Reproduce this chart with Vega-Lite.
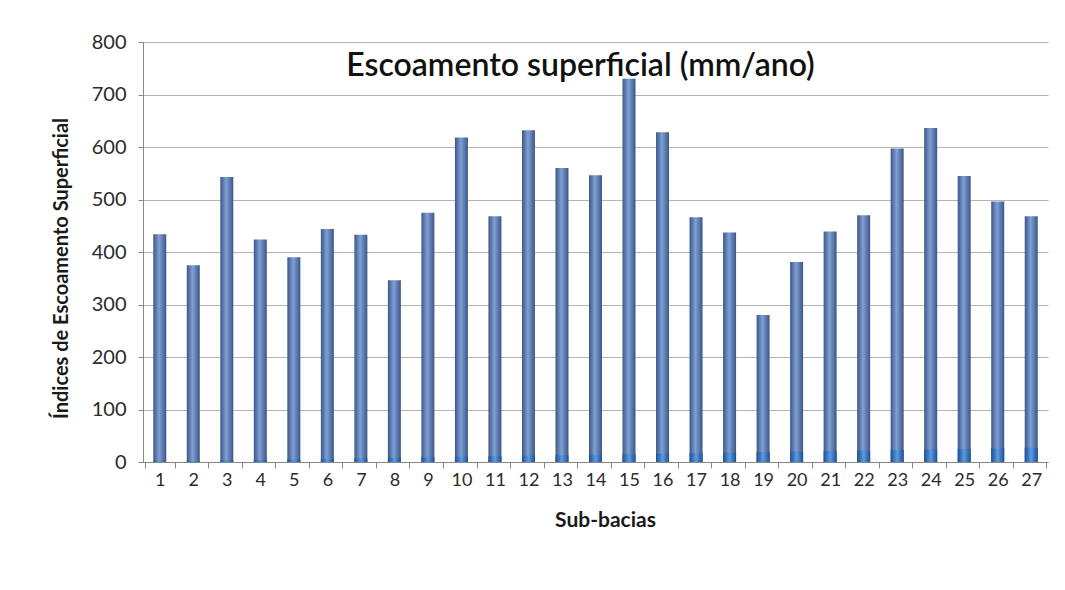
{
  "$schema": "https://vega.github.io/schema/vega-lite/v6.json",
  "autosize": "none",
  "width": 905,
  "height": 420,
  "padding": {"left": 143, "top": 42, "right": 17, "bottom": 128},
  "background": "white",
  "config": {
    "font": "Lato",
    "view": {"stroke": null},
    "axis": {"labelFont": "Lato", "titleFont": "Lato", "labelColor": "#2b2b2b", "titleColor": "#1a1a1a"}
  },
  "title": {
    "text": "Escoamento superficial (mm/ano)",
    "offset": -51,
    "fontSize": 32,
    "fontWeight": 600,
    "font": "Lato",
    "color": "#111111",
    "anchor": "middle",
    "dx": -15
  },
  "data": {
    "values": [
      {"sub": "1", "esc": 434, "n": 1},
      {"sub": "2", "esc": 375, "n": 2},
      {"sub": "3", "esc": 543, "n": 3},
      {"sub": "4", "esc": 424, "n": 4},
      {"sub": "5", "esc": 390, "n": 5},
      {"sub": "6", "esc": 444, "n": 6},
      {"sub": "7", "esc": 433, "n": 7},
      {"sub": "8", "esc": 346, "n": 8},
      {"sub": "9", "esc": 475, "n": 9},
      {"sub": "10", "esc": 618, "n": 10},
      {"sub": "11", "esc": 468, "n": 11},
      {"sub": "12", "esc": 632, "n": 12},
      {"sub": "13", "esc": 560, "n": 13},
      {"sub": "14", "esc": 546, "n": 14},
      {"sub": "15", "esc": 730, "n": 15},
      {"sub": "16", "esc": 628, "n": 16},
      {"sub": "17", "esc": 466, "n": 17},
      {"sub": "18", "esc": 437, "n": 18},
      {"sub": "19", "esc": 280, "n": 19},
      {"sub": "20", "esc": 381, "n": 20},
      {"sub": "21", "esc": 439, "n": 21},
      {"sub": "22", "esc": 470, "n": 22},
      {"sub": "23", "esc": 597, "n": 23},
      {"sub": "24", "esc": 636, "n": 24},
      {"sub": "25", "esc": 545, "n": 25},
      {"sub": "26", "esc": 496, "n": 26},
      {"sub": "27", "esc": 468, "n": 27}
    ]
  },
  "encoding": {
    "x": {
      "field": "sub",
      "type": "ordinal",
      "sort": null,
      "title": "Sub-bacias",
      "axis": {
        "labelAngle": 0,
        "labelFontSize": 18,
        "labelPadding": 3,
        "tickBand": "extent",
        "tickSize": 6,
        "tickColor": "#888888",
        "domainColor": "#888888",
        "titleFontSize": 21,
        "titleFontWeight": "bold",
        "titlePadding": 20,
        "titleX": 462,
        "grid": false
      }
    }
  },
  "layer": [
    {
      "mark": {
        "type": "bar",
        "size": 13,
        "color": {
          "gradient": "linear",
          "x1": 0, "x2": 1, "y1": 0, "y2": 0,
          "stops": [
            {"offset": 0, "color": "#3b5789"},
            {"offset": 0.45, "color": "#809fd4"},
            {"offset": 1, "color": "#3b5789"}
          ]
        }
      },
      "encoding": {
        "y": {
          "field": "esc",
          "type": "quantitative",
          "title": "Índices de Escoamento Superficial",
          "scale": {"domain": [0, 800], "nice": false},
          "axis": {
            "values": [0, 100, 200, 300, 400, 500, 600, 700, 800],
            "labelFontSize": 20,
            "labelPadding": 12,
            "tickSize": 5,
            "tickColor": "#888888",
            "domainColor": "#888888",
            "gridColor": "#b4b4b4",
            "gridWidth": 1.2,
            "titleFontSize": 20,
            "titleFontWeight": "bold",
            "titlePadding": 20,
            "titleY": 226
          }
        }
      }
    },
    {
      "mark": {
        "type": "bar",
        "size": 13,
        "color": {
          "gradient": "linear",
          "x1": 0, "x2": 1, "y1": 0, "y2": 0,
          "stops": [
            {"offset": 0, "color": "#1d4f95"},
            {"offset": 0.5, "color": "#5b9be0"},
            {"offset": 1, "color": "#1d4f95"}
          ]
        }
      },
      "encoding": {
        "y": {"field": "n", "type": "quantitative"}
      }
    }
  ]
}
